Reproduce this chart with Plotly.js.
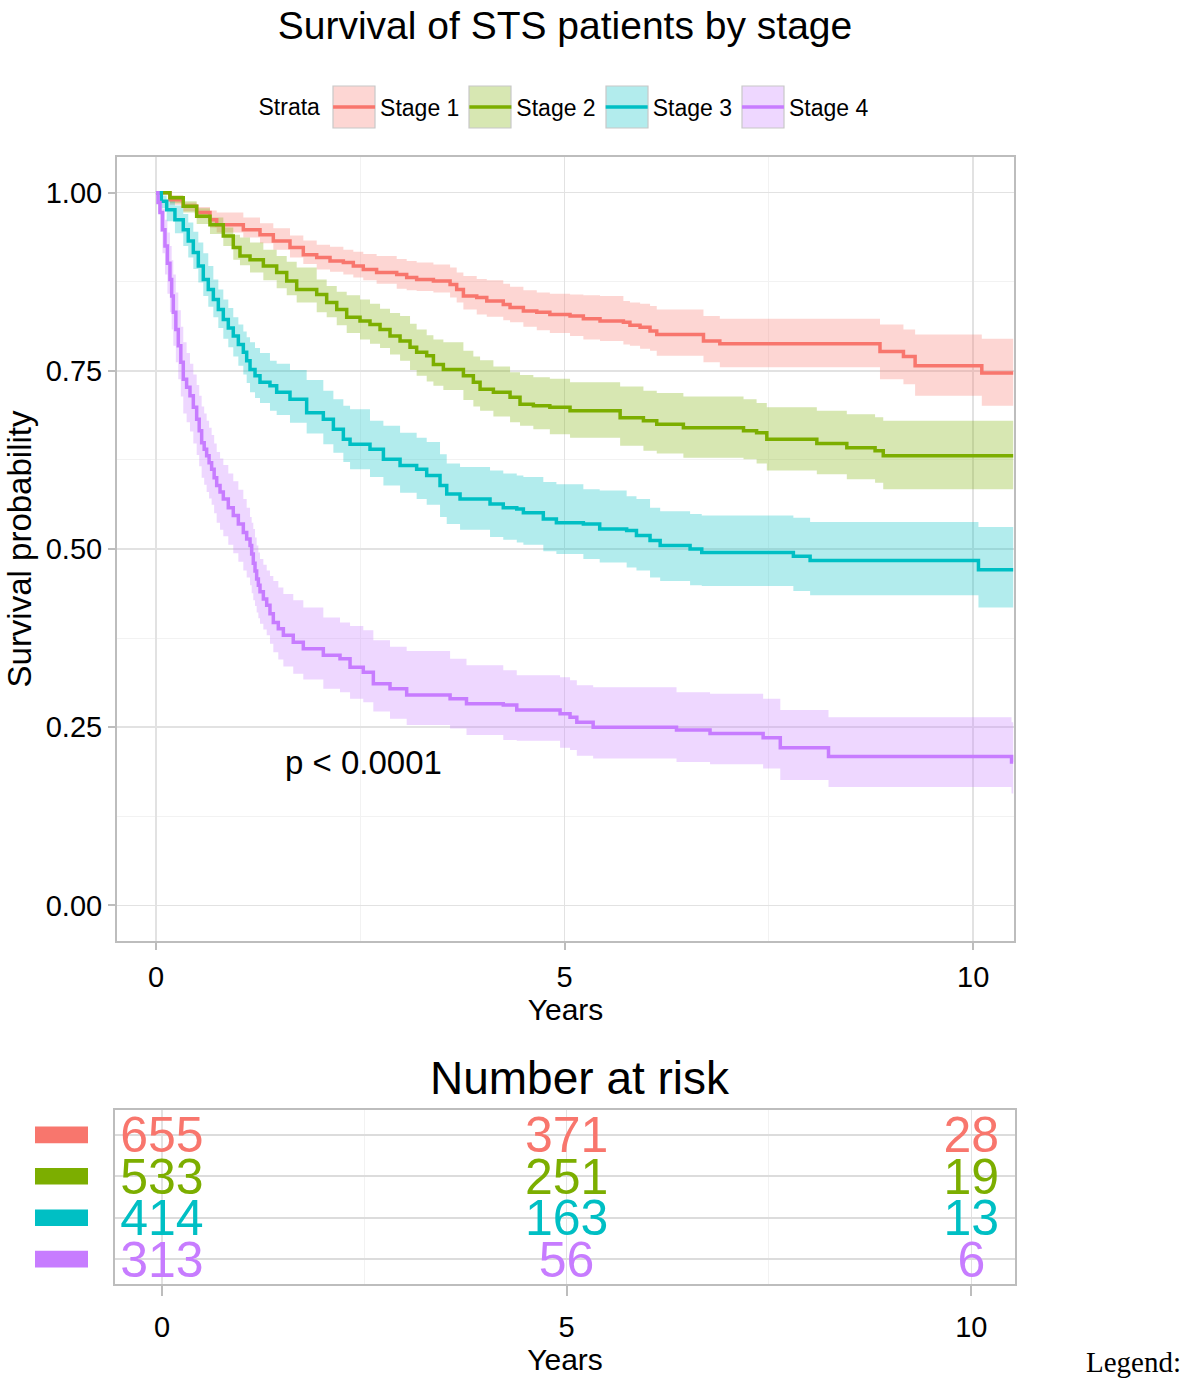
<!DOCTYPE html>
<html>
<head>
<meta charset="utf-8">
<script src="https://cdn.plot.ly/plotly-3.0.1.min.js"></script>
<style>
html,body{margin:0;padding:0;background:#ffffff;}
#chart{width:1193px;height:1380px;}
</style>
</head>
<body>
<div id="chart"></div>
<script>
// ---------------- DATA ----------------
const stageNames = ["Stage 1", "Stage 2", "Stage 3", "Stage 4"];
const stageColors = ["#F8766D", "#7CAE00", "#00BFC4", "#C77CFF"];
const bandColors = ["rgba(248,118,109,0.3)", "rgba(124,174,0,0.3)", "rgba(0,191,196,0.3)", "rgba(199,124,255,0.3)"];

// Stage 1
const s1Time  = [0, 0.171, 0.334, 0.498, 0.661, 0.743, 1.069, 1.273, 1.436, 1.640, 1.803, 1.967, 2.130, 2.293, 2.415, 2.537, 2.700, 2.946, 3.068, 3.190, 3.395, 3.599, 3.680, 3.762, 3.925, 4.048, 4.250, 4.333, 4.496, 4.660, 4.820, 5.067, 5.230, 5.434, 5.720, 5.800, 5.924, 6.046, 6.128, 6.700, 6.900, 8.860, 9.147, 9.290, 10.106, 10.490];
const s1Surv  = [1, 0.990, 0.981, 0.972, 0.962, 0.955, 0.948, 0.941, 0.932, 0.923, 0.913, 0.909, 0.904, 0.902, 0.897, 0.892, 0.888, 0.885, 0.881, 0.878, 0.876, 0.871, 0.864, 0.855, 0.853, 0.848, 0.843, 0.839, 0.834, 0.832, 0.829, 0.827, 0.823, 0.820, 0.818, 0.814, 0.811, 0.806, 0.801, 0.792, 0.788, 0.777, 0.770, 0.757, 0.747, 0.747];
const s1Upper = [1, 0.996, 0.986, 0.980, 0.975, 0.972, 0.965, 0.957, 0.950, 0.940, 0.933, 0.927, 0.924, 0.920, 0.917, 0.914, 0.911, 0.907, 0.904, 0.902, 0.899, 0.895, 0.888, 0.883, 0.879, 0.877, 0.872, 0.868, 0.863, 0.860, 0.858, 0.857, 0.856, 0.855, 0.848, 0.846, 0.844, 0.841, 0.836, 0.827, 0.823, 0.815, 0.808, 0.801, 0.795, 0.795];
const s1Lower = [1, 0.983, 0.974, 0.964, 0.951, 0.944, 0.937, 0.929, 0.920, 0.909, 0.900, 0.892, 0.889, 0.885, 0.881, 0.877, 0.872, 0.865, 0.863, 0.862, 0.860, 0.853, 0.846, 0.836, 0.829, 0.826, 0.821, 0.818, 0.812, 0.807, 0.803, 0.799, 0.794, 0.792, 0.787, 0.785, 0.781, 0.778, 0.771, 0.762, 0.755, 0.738, 0.731, 0.715, 0.701, 0.701];

// Stage 2
const s2Time  = [0, 0.171, 0.334, 0.498, 0.661, 0.824, 0.946, 1.028, 1.151, 1.314, 1.477, 1.600, 1.722, 1.967, 2.089, 2.212, 2.334, 2.497, 2.619, 2.742, 2.864, 2.987, 3.109, 3.190, 3.313, 3.395, 3.517, 3.762, 3.884, 3.966, 4.129, 4.333, 4.455, 4.618, 4.820, 5.067, 5.680, 5.965, 6.128, 6.454, 7.190, 7.350, 7.475, 8.087, 8.454, 8.800, 8.900, 10.490];
const s2Surv  = [1, 0.993, 0.981, 0.967, 0.955, 0.939, 0.923, 0.911, 0.906, 0.897, 0.888, 0.876, 0.864, 0.857, 0.846, 0.836, 0.825, 0.820, 0.815, 0.808, 0.799, 0.792, 0.783, 0.776, 0.771, 0.759, 0.752, 0.743, 0.734, 0.724, 0.720, 0.713, 0.703, 0.701, 0.699, 0.694, 0.684, 0.680, 0.675, 0.670, 0.666, 0.663, 0.654, 0.648, 0.642, 0.638, 0.631, 0.631];
const s2Upper = [1, 0.996, 0.988, 0.978, 0.965, 0.951, 0.941, 0.937, 0.930, 0.920, 0.911, 0.903, 0.895, 0.878, 0.869, 0.861, 0.856, 0.850, 0.844, 0.837, 0.831, 0.827, 0.816, 0.808, 0.800, 0.794, 0.790, 0.778, 0.770, 0.765, 0.756, 0.748, 0.744, 0.741, 0.739, 0.734, 0.728, 0.722, 0.719, 0.714, 0.710, 0.705, 0.699, 0.694, 0.689, 0.685, 0.680, 0.680];
const s2Lower = [1, 0.985, 0.972, 0.956, 0.942, 0.925, 0.906, 0.898, 0.888, 0.877, 0.866, 0.856, 0.846, 0.832, 0.825, 0.814, 0.803, 0.794, 0.788, 0.782, 0.773, 0.764, 0.751, 0.743, 0.735, 0.729, 0.723, 0.709, 0.700, 0.694, 0.686, 0.678, 0.673, 0.668, 0.661, 0.656, 0.645, 0.638, 0.634, 0.628, 0.626, 0.620, 0.610, 0.605, 0.598, 0.593, 0.584, 0.584];

// Stage 3
const s3Time  = [0, 0.065, 0.131, 0.232, 0.334, 0.395, 0.457, 0.518, 0.579, 0.640, 0.702, 0.763, 0.824, 0.885, 0.946, 1.008, 1.069, 1.110, 1.151, 1.212, 1.273, 1.395, 1.477, 1.640, 1.844, 2.048, 2.171, 2.293, 2.375, 2.619, 2.783, 2.987, 3.190, 3.313, 3.476, 3.558, 3.721, 4.088, 4.250, 4.415, 4.496, 4.740, 4.900, 5.230, 5.430, 5.760, 5.880, 6.046, 6.170, 6.536, 6.679, 7.800, 8.005, 10.065, 10.490];
const s3Surv  = [1, 0.988, 0.976, 0.962, 0.948, 0.932, 0.916, 0.897, 0.878, 0.864, 0.850, 0.836, 0.822, 0.810, 0.799, 0.787, 0.776, 0.764, 0.752, 0.743, 0.734, 0.729, 0.720, 0.710, 0.691, 0.682, 0.668, 0.654, 0.647, 0.640, 0.626, 0.617, 0.612, 0.603, 0.589, 0.577, 0.570, 0.563, 0.558, 0.556, 0.551, 0.542, 0.537, 0.535, 0.528, 0.526, 0.519, 0.512, 0.505, 0.500, 0.495, 0.490, 0.484, 0.471, 0.471];
const s3Upper = [1, 0.996, 0.990, 0.982, 0.970, 0.958, 0.945, 0.930, 0.915, 0.897, 0.878, 0.864, 0.850, 0.838, 0.825, 0.815, 0.805, 0.797, 0.790, 0.782, 0.775, 0.764, 0.760, 0.751, 0.737, 0.722, 0.710, 0.701, 0.696, 0.680, 0.673, 0.663, 0.656, 0.650, 0.633, 0.620, 0.615, 0.610, 0.606, 0.603, 0.601, 0.594, 0.591, 0.584, 0.582, 0.574, 0.570, 0.558, 0.553, 0.549, 0.547, 0.544, 0.538, 0.531, 0.528];
const s3Lower = [1, 0.978, 0.960, 0.943, 0.925, 0.909, 0.893, 0.874, 0.855, 0.840, 0.825, 0.810, 0.795, 0.783, 0.770, 0.757, 0.745, 0.733, 0.720, 0.712, 0.705, 0.694, 0.688, 0.677, 0.662, 0.647, 0.635, 0.622, 0.612, 0.601, 0.589, 0.579, 0.570, 0.562, 0.545, 0.535, 0.527, 0.517, 0.513, 0.509, 0.506, 0.497, 0.493, 0.486, 0.481, 0.474, 0.470, 0.460, 0.455, 0.449, 0.448, 0.441, 0.435, 0.418, 0.414];

// Stage 4
const s4Time  = [0, 0.025, 0.049, 0.080, 0.110, 0.140, 0.171, 0.192, 0.212, 0.243, 0.273, 0.304, 0.334, 0.375, 0.416, 0.457, 0.498, 0.529, 0.559, 0.590, 0.620, 0.650, 0.681, 0.712, 0.743, 0.784, 0.824, 0.885, 0.946, 1.008, 1.069, 1.110, 1.151, 1.171, 1.191, 1.212, 1.232, 1.253, 1.273, 1.314, 1.355, 1.395, 1.436, 1.497, 1.559, 1.680, 1.803, 2.048, 2.252, 2.375, 2.537, 2.660, 2.864, 3.068, 3.599, 3.800, 4.250, 4.415, 4.945, 5.067, 5.150, 5.350, 6.370, 6.780, 7.430, 7.640, 8.230, 10.470, 10.490];
const s4Surv  = [1, 0.986, 0.972, 0.948, 0.925, 0.901, 0.878, 0.855, 0.832, 0.808, 0.785, 0.762, 0.738, 0.727, 0.715, 0.699, 0.682, 0.666, 0.649, 0.640, 0.631, 0.621, 0.612, 0.600, 0.589, 0.580, 0.570, 0.558, 0.547, 0.535, 0.523, 0.514, 0.505, 0.493, 0.480, 0.469, 0.458, 0.449, 0.440, 0.430, 0.421, 0.409, 0.397, 0.388, 0.379, 0.369, 0.360, 0.351, 0.346, 0.334, 0.327, 0.311, 0.304, 0.295, 0.290, 0.283, 0.281, 0.274, 0.269, 0.264, 0.257, 0.250, 0.246, 0.241, 0.235, 0.221, 0.209, 0.201, 0.201];
const s4Upper = [1, 0.996, 0.990, 0.977, 0.962, 0.944, 0.925, 0.905, 0.885, 0.860, 0.835, 0.812, 0.790, 0.775, 0.760, 0.745, 0.730, 0.715, 0.700, 0.690, 0.680, 0.670, 0.660, 0.648, 0.636, 0.627, 0.618, 0.606, 0.595, 0.583, 0.570, 0.558, 0.545, 0.537, 0.528, 0.516, 0.505, 0.495, 0.486, 0.478, 0.470, 0.462, 0.455, 0.446, 0.437, 0.428, 0.418, 0.404, 0.397, 0.392, 0.386, 0.372, 0.363, 0.357, 0.346, 0.337, 0.330, 0.323, 0.320, 0.316, 0.309, 0.306, 0.299, 0.297, 0.290, 0.274, 0.264, 0.257, 0.257];
const s4Lower = [1, 0.972, 0.945, 0.915, 0.885, 0.858, 0.832, 0.808, 0.785, 0.762, 0.738, 0.714, 0.690, 0.678, 0.665, 0.648, 0.632, 0.616, 0.600, 0.590, 0.580, 0.571, 0.562, 0.550, 0.537, 0.527, 0.518, 0.506, 0.494, 0.482, 0.470, 0.460, 0.449, 0.438, 0.428, 0.420, 0.411, 0.403, 0.395, 0.387, 0.379, 0.367, 0.355, 0.345, 0.335, 0.325, 0.317, 0.304, 0.299, 0.290, 0.285, 0.272, 0.262, 0.253, 0.248, 0.239, 0.232, 0.231, 0.221, 0.218, 0.210, 0.206, 0.201, 0.198, 0.192, 0.176, 0.166, 0.157, 0.157];

// Number at risk table
const riskTimes  = [0, 5, 10];
const riskStage1 = [655, 371, 28];
const riskStage2 = [533, 251, 19];
const riskStage3 = [414, 163, 13];
const riskStage4 = [313, 56, 6];

const pValueText = "p < 0.0001";

// ---------------- FIGURE ----------------
const W = 1193, H = 1380;
const fx = v => v / W;
const fy = v => 1 - v / H;
const FONT = "Liberation Sans, Arial, Helvetica, sans-serif";
const gridMajor = "#E2E2E2", gridMinor = "#F2F2F2", frameCol = "#BDBDBD";

const stages = [
  {name: stageNames[0], t: s1Time, s: s1Surv, u: s1Upper, l: s1Lower},
  {name: stageNames[1], t: s2Time, s: s2Surv, u: s2Upper, l: s2Lower},
  {name: stageNames[2], t: s3Time, s: s3Surv, u: s3Upper, l: s3Lower},
  {name: stageNames[3], t: s4Time, s: s4Surv, u: s4Upper, l: s4Lower}
];
const riskRows = [riskStage1, riskStage2, riskStage3, riskStage4];

const traces = [];
stages.forEach((st, i) => {
  traces.push({x: st.t, y: st.l, type: "scatter", mode: "lines",
    line: {shape: "hv", width: 0, color: bandColors[i]},
    showlegend: false, hoverinfo: "skip", xaxis: "x", yaxis: "y"});
  traces.push({x: st.t, y: st.u, type: "scatter", mode: "lines",
    line: {shape: "hv", width: 0, color: bandColors[i]},
    fill: "tonexty", fillcolor: bandColors[i],
    showlegend: false, hoverinfo: "skip", xaxis: "x", yaxis: "y"});
});
stages.forEach((st, i) => {
  traces.push({x: st.t, y: st.s, type: "scatter", mode: "lines", name: st.name,
    line: {shape: "hv", width: 3.5, color: stageColors[i]},
    xaxis: "x", yaxis: "y"});
});
riskRows.forEach((row, i) => {
  traces.push({x: riskTimes, y: riskTimes.map(() => stageNames[i]), type: "scatter", mode: "text",
    text: row.map(String), textposition: "middle center",
    textfont: {size: 50, color: stageColors[i], family: FONT},
    showlegend: false, hoverinfo: "skip", cliponaxis: false, xaxis: "x2", yaxis: "y3"});
});

const axisCommon = {
  showline: true, mirror: true, linecolor: frameCol, linewidth: 2,
  ticks: "outside", ticklen: 7, tickwidth: 2, tickcolor: frameCol,
  zeroline: false, automargin: false,
  tickfont: {size: 29, color: "#000", family: FONT}
};

// legend key boxes (ggplot-style filled keys behind the legend lines)
const legendKeyX = [333, 469, 606, 742];
const legendShapes = legendKeyX.map((x0, i) => ({
  type: "rect", xref: "paper", yref: "paper",
  x0: fx(x0), x1: fx(x0 + 42), y0: fy(128), y1: fy(86),
  fillcolor: bandColors[i], line: {color: "#C8C8C8", width: 1.2}, layer: "above"
}));

const riskKeyShapes = stageNames.map((s, i) => ({
  type: "rect", xref: "paper", yref: "y2", x0: fx(35), x1: fx(88), y0: i - 0.2, y1: i + 0.2,
  fillcolor: stageColors[i], line: {width: 0}, layer: "above"
}));

const layout = {
  width: W, height: H,
  margin: {l: 0, r: 0, t: 0, b: 0},
  paper_bgcolor: "#ffffff", plot_bgcolor: "#ffffff",
  font: {family: FONT, color: "#000"},
  hovermode: false,
  title: {text: "Survival of STS patients by stage", font: {size: 39, family: FONT, color: "#000"},
          x: fx(565), xanchor: "center", xref: "paper", y: fy(25), yanchor: "middle", yref: "paper"},
  showlegend: true,
  legend: {orientation: "h", x: fx(565), xanchor: "center", y: fy(107), yanchor: "middle",
           font: {size: 23, color: "#000"}, title: {text: "Strata", side: "left", font: {size: 23}},
           itemwidth: 42, bgcolor: "rgba(0,0,0,0)", traceorder: "normal"},
  xaxis: Object.assign({}, axisCommon, {
    domain: [fx(117), fx(1014)], range: [-0.477, 10.5], anchor: "y",
    tick0: 0, dtick: 5, showgrid: true, gridcolor: gridMajor, gridwidth: 1.5,
    minor: {showgrid: true, gridcolor: gridMinor, gridwidth: 1, dtick: 2.5, tick0: 0},
    ticklabelstandoff: 2,
    title: {text: "Years", font: {size: 30, color: "#000"}, standoff: 6}
  }),
  yaxis: Object.assign({}, axisCommon, {
    domain: [fy(941), fy(157)], range: [-0.05, 1.05], anchor: "x",
    tick0: 0, dtick: 0.25, tickformat: ".2f", showgrid: true, gridcolor: gridMajor, gridwidth: 1.5,
    minor: {showgrid: true, gridcolor: gridMinor, gridwidth: 1, dtick: 0.125, tick0: 0},
    title: {text: "Survival probability", font: {size: 33, color: "#000"}, standoff: 4}
  }),
  xaxis2: Object.assign({}, axisCommon, {
    domain: [fx(115), fx(1015)], range: [-0.58, 10.54], anchor: "y2",
    tick0: 0, dtick: 5, showgrid: true, gridcolor: gridMajor, gridwidth: 1.5,
    minor: {showgrid: true, gridcolor: gridMinor, gridwidth: 1, dtick: 2.5, tick0: 0},
    ticklen: 10, ticklabelstandoff: 6,
    title: {text: "Years", font: {size: 30, color: "#000"}, standoff: 5}
  }),
  yaxis2: {
    domain: [fy(1284), fy(1110)], anchor: "x2", type: "category",
    categoryorder: "array", categoryarray: stageNames, range: [3.6, -0.6],
    showticklabels: false, ticks: "", showgrid: true, gridcolor: "#DCDCDC", gridwidth: 2,
    showline: true, mirror: true, linecolor: frameCol, linewidth: 2, zeroline: false, automargin: false
  },
  // same rows as yaxis2, nudged so the digits sit centred on the row lines as in the reference
  yaxis3: {
    domain: [fy(1284), fy(1110)], anchor: "x2", overlaying: "y2", type: "category",
    categoryorder: "array", categoryarray: stageNames, range: [3.48, -0.72],
    showticklabels: false, ticks: "", showgrid: false, showline: false, zeroline: false,
    automargin: false, visible: false
  },
  annotations: [
    {xref: "x", yref: "y", x: 1.55, y: 0.2, text: pValueText, showarrow: false,
     xanchor: "left", yanchor: "middle", font: {size: 33, color: "#000", family: FONT}},
    {xref: "paper", yref: "paper", x: fx(580), y: fy(1078), text: "Number at risk", showarrow: false,
     xanchor: "center", yanchor: "middle", font: {size: 46, color: "#000", family: FONT}},
    {xref: "paper", yref: "paper", x: fx(1183), y: fy(1362), text: "Legend:", showarrow: false,
     xanchor: "right", yanchor: "middle", font: {size: 29, color: "#000", family: "Liberation Serif, Times New Roman, serif"}}
  ],
  shapes: legendShapes.concat(riskKeyShapes)
};

Plotly.newPlot("chart", traces, layout, {displayModeBar: false, staticPlot: true});
</script>
</body>
</html>
